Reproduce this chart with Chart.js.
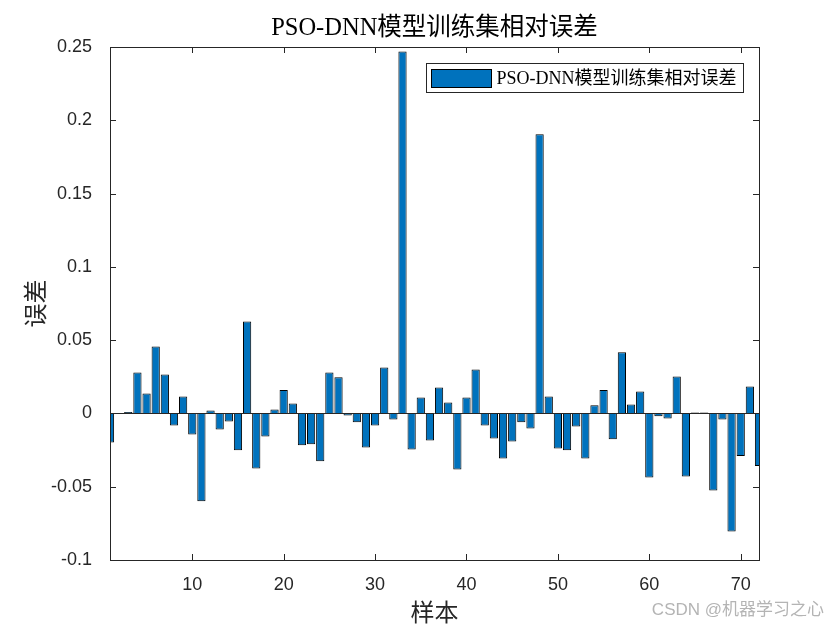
<!DOCTYPE html>
<html>
<head>
<meta charset="utf-8">
<script src="https://cdn.jsdelivr.net/npm/chart.js@4"></script>
<style>
  html, body { margin: 0; padding: 0; background: #fff; }
  #wrap { width: 840px; height: 630px; }
</style>
</head>
<body>
<div id="wrap"><canvas id="errChart"></canvas></div>
<script>
const samples = [1, 2, 3, 4, 5, 6, 7, 8, 9, 10, 11, 12, 13, 14, 15, 16, 17, 18, 19, 20, 21, 22, 23, 24,
    25, 26, 27, 28, 29, 30, 31, 32, 33, 34, 35, 36, 37, 38, 39, 40, 41, 42, 43, 44, 45, 46, 47, 48,
    49, 50, 51, 52, 53, 54, 55, 56, 57, 58, 59, 60, 61, 62, 63, 64, 65, 66, 67, 68, 69, 70, 71, 72];
const relErrors = [-0.0198, 0.0003, 0.001, 0.028, 0.0136, 0.0457, 0.0266, -0.0082, 0.0116, -0.0143,
    -0.060, 0.002, -0.0109, -0.0055, -0.0252, 0.0628, -0.0375, -0.0157, 0.0027, 0.0159,
    0.0068, -0.0217, -0.0211, -0.0327, 0.028, 0.0246, -0.0014, -0.0061, -0.0232, -0.0082,
    0.0314, -0.0041, 0.2469, -0.0246, 0.0109, -0.0184, 0.0177, 0.0075, -0.0382, 0.0109,
    0.030, -0.0082, -0.0171, -0.0307, -0.0191, -0.0061, -0.0102, 0.1905, 0.0116, -0.0239,
    -0.0252, -0.0089, -0.0307, 0.0055, 0.0159, -0.0177, 0.0418, 0.0061, 0.015, -0.0437,
    -0.002, -0.0034, 0.0252, -0.043, 0.0007, 0.0007, -0.0525, -0.0041, -0.0805, -0.0291,
    0.0184, -0.0359];
const xTicks = [10, 20, 30, 40, 50, 60, 70];
const yTicks = [-0.1, -0.05, 0, 0.05, 0.1, 0.15, 0.2, 0.25];

const seriesName = 'PSO-DNN模型训练集相对误差';
const serif = "'Liberation Serif', 'Times New Roman', 'Noto Sans CJK SC', serif";
const sans = "'Liberation Sans', Arial, 'Noto Sans CJK SC', sans-serif";
const barColor = '#0072BD';
const axisColor = '#262626';

// title, frame, inward ticks, zero baseline, legend box and watermark
const matlabAxes = {
    id: 'matlabAxes',
    afterDatasetsDraw(chart) {
        const { ctx, chartArea: a, scales: { x, y } } = chart;
        const tl = 6;
        ctx.save();
        ctx.strokeStyle = axisColor;
        ctx.lineWidth = 1;

        // zero baseline
        const y0 = Math.round(y.getPixelForValue(0)) + 0.5;
        ctx.beginPath();
        ctx.moveTo(a.left, y0);
        ctx.lineTo(a.right, y0);
        ctx.stroke();

        // box
        ctx.strokeRect(Math.round(a.left) + 0.5, Math.round(a.top) + 0.5,
            Math.round(a.right - a.left), Math.round(a.bottom - a.top));

        ctx.beginPath();
        xTicks.forEach(v => {
            const px = Math.round(x.getPixelForValue(v)) + 0.5;
            ctx.moveTo(px, a.bottom); ctx.lineTo(px, a.bottom - tl);
            ctx.moveTo(px, a.top); ctx.lineTo(px, a.top + tl);
        });
        yTicks.forEach(v => {
            const py = Math.round(y.getPixelForValue(v)) + 0.5;
            ctx.moveTo(a.left, py); ctx.lineTo(a.left + tl, py);
            ctx.moveTo(a.right, py); ctx.lineTo(a.right - tl, py);
        });
        ctx.stroke();

        // title
        ctx.fillStyle = '#000';
        ctx.font = `24.5px ${serif}`;
        ctx.textAlign = 'center';
        ctx.textBaseline = 'middle';
        ctx.fillText(seriesName, (a.left + a.right) / 2, 29);

        // legend
        const lw = 317, lh = 29;
        const lx = Math.round(a.right - 16 - lw) + 0.5, ly = Math.round(a.top + 16) + 0.5;
        ctx.fillStyle = '#fff';
        ctx.fillRect(lx, ly, lw, lh);
        ctx.strokeRect(lx, ly, lw, lh);
        ctx.fillStyle = barColor;
        ctx.fillRect(lx + 5, ly + 6, 60, 18);
        ctx.strokeStyle = '#000';
        ctx.strokeRect(lx + 5, ly + 6, 60, 18);
        ctx.fillStyle = '#000';
        ctx.font = `18px ${serif}`;
        ctx.textAlign = 'left';
        ctx.fillText(chart.data.datasets[0].label, lx + 70, ly + lh / 2 + 1);

        // watermark
        ctx.fillStyle = '#b4b4b4';
        ctx.font = `17px ${sans}`;
        ctx.textAlign = 'right';
        ctx.fillText('CSDN @机器学习之心', 824, 610);
        ctx.restore();
    }
};

new Chart(document.getElementById('errChart'), {
    type: 'bar',
    data: {
        datasets: [{
            label: seriesName,
            data: samples.map((s, i) => ({ x: s, y: relErrors[i] })),
            backgroundColor: barColor,
            borderColor: '#000',
            borderWidth: 1,
            barPercentage: 0.9,
            categoryPercentage: 1,
            clip: 0
        }]
    },
    options: {
        responsive: true,
        maintainAspectRatio: false,
        animation: false,
        layout: { padding: { left: 0, right: 81, top: 47, bottom: 0 } },
        plugins: {
            legend: { display: false },
            tooltip: { enabled: false },
            title: { display: false }
        },
        scales: {
            x: {
                type: 'linear',
                min: 1,
                max: 72,
                offset: false,
                afterBuildTicks: scale => { scale.ticks = xTicks.map(v => ({ value: v })); },
                afterFit: scale => { scale.height = 70; },
                grid: { display: false },
                border: { display: false },
                ticks: { color: axisColor, padding: 6, font: { family: sans, size: 18 } },
                title: {
                    display: true,
                    text: '样本',
                    color: axisColor,
                    font: { family: sans, size: 24 },
                    padding: { top: 0, bottom: 1 }
                }
            },
            y: {
                min: -0.1,
                max: 0.25,
                afterBuildTicks: scale => { scale.ticks = yTicks.map(v => ({ value: v })); },
                afterFit: scale => { scale.width = 110; },
                grid: { display: false },
                border: { display: false },
                ticks: {
                    color: axisColor,
                    padding: 10,
                    font: { family: sans, size: 18 },
                    callback: v => String(+v.toFixed(2))
                },
                title: {
                    display: true,
                    text: '误差',
                    color: axisColor,
                    font: { family: sans, size: 24 },
                    padding: { top: 23, bottom: 0 }
                }
            }
        }
    },
    plugins: [matlabAxes]
});
</script>
</body>
</html>
